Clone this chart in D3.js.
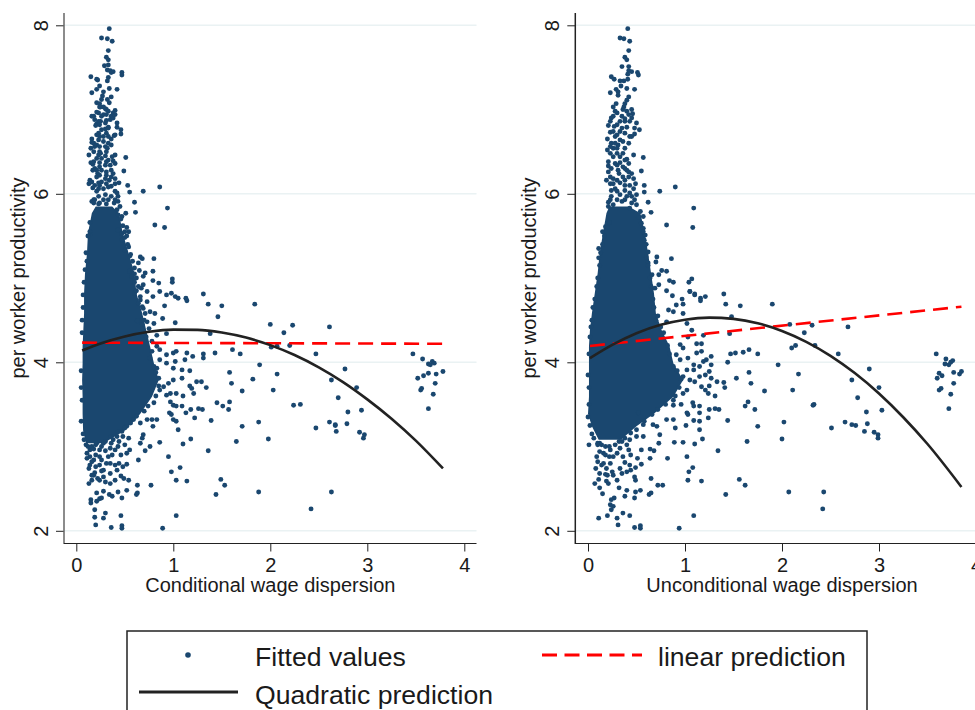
<!DOCTYPE html>
<html>
<head>
<meta charset="utf-8">
<script src="https://cdn.jsdelivr.net/npm/d3@7"></script>
<style>
  html, body { margin: 0; padding: 0; background: #fff; overflow: hidden; }
  text { font-family: "Liberation Sans", Arial, sans-serif; fill: #1a1a1a; }
</style>
</head>
<body>
<svg id="chart" width="975" height="710"></svg>
<script>
const yTicks = [2, 4, 6, 8];
const xTicks = [0, 1, 2, 3, 4];
const legendLabels = ["Fitted values", "linear prediction", "Quadratic prediction"];

// [dispersion, productivity]
const condPoints = [
  [.34,7.96],[.26,7.85],[.32,7.84],[.37,7.81],[.33,7.70],[.31,7.62],[.33,7.59],[.29,7.52],[.33,7.53],[.32,7.47],[.35,7.46],[.38,7.45],[.36,7.44],[.47,7.44],[.47,7.41],[.15,7.39],[.21,7.36],[.22,7.35],[.33,7.38],[.32,7.34],
  [.21,7.24],[.24,7.28],[.16,7.20],[.28,7.21],[.34,7.25],[.42,7.24],[.27,7.16],[.36,7.15],[.32,7.12],[.26,7.12],[.21,7.08],[.24,7.07],[.34,7.08],[.28,7.03],[.25,7.03],[.31,7.00],[.40,6.99],[.38,6.96],[.18,6.92],[.19,6.88],
  [.23,6.96],[.28,6.94],[.36,6.92],[.31,6.87],[.42,6.84],[.25,6.86],[.21,6.83],[.20,6.81],[.33,6.79],[.30,6.77],[.42,6.79],[.46,6.76],[.46,6.71],[.23,6.72],[.24,6.68],[.31,6.72],[.39,6.69],[.36,6.65],[.16,6.65],[.16,6.61],
  [.23,6.64],[.28,6.62],[.33,6.60],[.36,6.58],[.15,6.54],[.19,6.56],[.24,6.50],[.25,6.48],[.13,6.46],[.40,6.46],[.30,6.45],[.37,6.44],[.21,6.42],[.51,6.43],[.15,6.37],[.17,6.35],[.24,6.37],[.31,6.38],[.38,6.39],[.33,6.40],
  [.19,6.30],[.26,6.28],[.31,6.26],[.36,6.28],[.49,6.27],[.38,6.24],[.22,6.24],[.21,6.20],[.14,6.16],[.13,6.12],[.23,6.13],[.30,6.18],[.34,6.16],[.40,6.18],[.17,6.07],[.24,6.10],[.31,6.12],[.36,6.09],[.44,6.13],[.53,6.10],
  [.86,6.08],[.40,6.03],[.21,6.03],[.55,6.02],[.69,6.03],[.43,5.97],[.18,5.93],[.23,5.97],[.30,5.99],[.36,5.97],[.16,5.91],[.24,5.89],[.60,5.90],[.39,5.89],[.45,5.85],[.94,5.83],[.42,5.81],[.51,5.77],[.61,5.78],[.47,5.73],
  [.14,5.66],[.43,5.75],[.81,5.63],[.91,5.60],[.52,5.60],[.47,5.53],[.54,5.55],[.14,5.55],[.14,5.51],[.43,5.57],[.50,5.48],[.54,5.37],[.55,5.26],[.66,5.25],[.68,5.23],[.80,5.23],[.64,5.18],[.79,5.08],[.65,5.09],[.60,5.05],
  [.71,5.06],[.69,5.02],[.57,5.02],[.99,4.99],[.99,4.95],[.79,4.97],[.85,4.94],[.69,4.92],[.67,4.88],[.86,4.84],[.98,4.82],[1.31,4.81],[.93,4.80],[1.02,4.78],[1.13,4.76],[1.05,4.76],[.60,4.82],[.73,4.84],
  [1.36,4.69],[1.50,4.67],[.91,4.67],[1.14,4.73],[.69,4.64],[.73,4.72],[.66,4.74],[.79,4.78],[.71,4.58],[.76,4.60],[.81,4.58],[1.46,4.54],[.89,4.52],[.63,4.49],[.73,4.48],[1.02,4.47],[.80,4.46],[1.38,4.34],[.83,4.32],[.93,4.34],
  [1.43,4.11],[1.61,4.15],[1.69,4.10],[1.03,4.13],[1.14,4.11],[1.20,4.07],[1.31,4.10],[1.31,4.05],[.83,4.19],[.86,4.15],[.93,4.09],[1.00,4.11],[.78,4.13],[.86,4.03],[.93,3.99],[1.02,4.01],[1.12,4.03],[.83,3.93],[1.00,3.93],[1.09,3.91],
  [1.17,3.90],[1.09,3.81],[1.00,3.79],[.85,3.81],[.95,3.75],[1.17,3.72],[1.19,3.69],[1.24,3.77],[1.29,3.77],[1.34,3.70],[1.58,3.88],[1.60,3.75],[1.71,3.66],[.97,3.63],[1.03,3.63],[1.10,3.60],[1.21,3.63],[.86,3.67],[.90,3.71],[.93,3.61],
  [1.45,3.52],[1.51,3.48],[1.57,3.44],[1.58,3.53],[.97,3.53],[1.00,3.49],[1.09,3.48],[1.03,3.48],[1.18,3.44],[1.26,3.45],[1.30,3.44],[1.13,3.40],[.96,3.40],[.98,3.38],[1.22,3.34],[1.39,3.31],[1.00,3.32],[1.03,3.30],[1.71,3.24],[1.05,3.20],
  [1.18,3.09],[1.10,3.03],[1.65,3.06],[1.36,2.95],[.95,2.88],[1.07,2.75],[.98,2.70],[1.03,2.60],[1.14,2.59],[1.49,2.61],[1.53,2.54],[1.44,2.43],[1.03,2.18],[.89,2.03],[.47,2.06],[.47,2.03],[.36,2.04],[.20,2.07],[.46,2.18],[.30,2.21],
  [.28,2.15],[.19,2.25],[.19,2.16],[.15,2.37],[.15,2.33],[.21,2.35],[.24,2.38],[.26,2.39],[.21,2.45],[.28,2.47],[.34,2.43],[.37,2.41],[.43,2.46],[.47,2.39],[.52,2.48],[.62,2.43],[.63,2.45],[.63,2.54],[.77,2.54],[.16,2.60],
  [.13,2.56],[.18,2.66],[.24,2.60],[.28,2.64],[.35,2.56],[.46,2.65],[.49,2.62],[.54,2.60],[.19,2.69],[.26,2.71],[.35,2.68],[.13,2.74],[.18,2.84],[.24,2.88],[.11,2.86],[.16,2.82],[.31,2.80],[.35,2.80],[.40,2.78],[.44,2.80],
  [.48,2.76],[.52,2.79],[.64,2.84],[.71,2.95],[.76,3.00],[.86,3.05],[.69,3.14],[.68,3.10],[.66,3.04],[.55,2.96],[.52,2.92],[.40,2.96],[.43,3.00],[.35,2.98],[.33,2.88],[.24,2.96],[.21,3.04],[.14,2.96],[.28,3.04],[.42,3.12],
  [.48,3.12],[.54,3.10],[.50,3.02],[.79,3.24],[.83,3.32],[.78,3.32],[.73,3.32],[.66,3.28],[.59,3.32],[.52,3.24],[.47,3.18],[.38,3.08],
  [1.84,4.69],[2.00,4.45],[2.23,4.44],[2.14,4.35],[2.61,4.42],[2.20,4.20],[2.01,4.18],[2.07,4.19],[2.47,4.10],[1.89,3.97],[2.77,3.92],[2.07,3.86],[1.82,3.80],[2.63,3.79],[2.89,3.70],[2.03,3.67],[2.70,3.58],[2.24,3.49],[2.31,3.50],[2.80,3.41],
  [2.94,3.43],[1.88,3.29],[2.47,3.22],[2.61,3.29],[2.67,3.26],[2.67,3.25],[2.79,3.27],[2.68,3.18],[2.92,3.17],[2.97,3.14],[2.96,3.10],[1.98,3.09],[1.88,2.46],[2.63,2.46],[2.42,2.26],
  [3.47,4.10],[3.57,4.04],[3.63,3.98],[3.65,3.97],[3.67,4.01],[3.69,3.99],[3.63,3.87],[3.71,3.86],[3.78,3.89],[3.52,3.81],[3.58,3.84],[3.70,3.75],[3.56,3.69],[3.55,3.67],[3.68,3.62],[3.63,3.45],
  // tighter clumps above the solid part
  [.16,6.92],[.21,6.97],[.24,7.03],[.30,7.01],[.33,6.98],[.31,6.94],[.26,6.92],[.35,6.88],[.38,6.90],[.40,6.94],[.23,6.86],[.24,6.82],[.30,6.84],[.33,6.78],[.26,6.76],[.21,6.70],[.28,6.68],[.33,6.68],[.40,6.70],[.18,6.60],
  [.21,6.58],[.24,6.56],[.30,6.56],[.32,6.54],[.18,6.50],[.23,6.46],[.26,6.42],[.31,6.50],[.18,6.38],[.24,6.32],[.30,6.34],[.35,6.34],[.40,6.36],[.17,6.28],[.21,6.28],[.24,6.22],[.31,6.22],[.36,6.20],[.16,6.14],[.19,6.10],
  [.26,6.14],[.33,6.08],[.40,6.12],[.42,6.01],[.23,6.06],[.28,6.06],[.19,5.93],[.28,5.93],[.33,5.93],[.40,5.93],[.18,5.89],[.23,5.88],[.31,5.88],[.43,5.91],
  // rough edge of the solid part
  [.46,5.70],[.48,5.62],[.50,5.55],[.52,5.50],[.47,5.45],[.53,5.40],[.50,5.33],[.56,5.28],[.58,5.20],[.60,5.12],[.55,5.08],[.62,5.00],[.60,4.95],[.64,4.90],[.62,4.85],[.66,4.78],[.64,4.70],[.68,4.66],[.70,4.50],[.68,4.45],
  [.75,4.40],[.72,4.30],[.78,4.25],[.76,4.05],[.80,3.95],[.82,3.88],[.85,3.72],[.82,3.60],[.80,3.52],[.74,3.48],[.70,3.42],[.62,3.36],[.56,3.28],[.50,3.22],[.43,3.18],[.36,3.12],[.30,3.06],
  [.12,5.50],[.10,5.30],[.11,5.20],[.09,5.10],[.08,4.95],[.07,4.80],[.07,4.65],[.06,4.50],[.06,4.35],[.05,3.90],[.05,3.70],[.06,3.55],[.05,3.30],[.07,3.15],[.08,3.08],[.10,3.02],[.12,3.00],[.16,3.00],[.18,2.97],
  [.20,3.02],[.26,3.00],[.30,2.95],[.36,3.04],[.44,3.06],[.11,2.92],[.14,2.88],[.20,2.90],[.26,2.84],[.37,2.90],[.46,2.90],[.14,2.78],[.20,2.76],[.24,2.78],[.28,2.72],[.42,2.72],[.16,2.66],[.22,2.62],[.30,2.58],[.40,2.60]
];

// same, right panel
const uncondPoints = [
  [.41,7.96],[.33,7.85],[.37,7.84],[.43,7.81],[.42,7.70],[.38,7.62],[.40,7.59],[.35,7.51],[.42,7.51],[.42,7.46],[.45,7.45],[.41,7.42],[.51,7.44],[.52,7.41],[.24,7.39],[.27,7.36],[.33,7.34],[.37,7.34],[.41,7.36],[.34,7.28],
  [.29,7.24],[.23,7.20],[.31,7.21],[.40,7.25],[.48,7.24],[.31,7.17],[.42,7.15],[.40,7.11],[.38,7.07],[.29,7.07],[.26,7.03],[.37,7.03],[.28,6.98],[.45,7.00],[.40,6.98],[.46,6.95],[.35,6.92],[.24,6.90],[.23,6.86],[.21,6.81],
  [.33,6.86],[.38,6.89],[.43,6.86],[.50,6.84],[.27,6.80],[.40,6.79],[.48,6.78],[.53,6.76],[.23,6.73],[.33,6.74],[.48,6.71],[.45,6.68],[.28,6.68],[.20,6.65],[.36,6.62],[.42,6.60],[.24,6.60],[.31,6.58],[.20,6.52],[.26,6.54],
  [.30,6.48],[.36,6.48],[.47,6.46],[.57,6.43],[.40,6.41],[.21,6.38],[.28,6.36],[.33,6.37],[.42,6.36],[.21,6.33],[.38,6.30],[.55,6.27],[.21,6.26],[.32,6.24],[.42,6.26],[.45,6.24],[.19,6.16],[.26,6.18],[.38,6.16],[.47,6.18],
  [.23,6.12],[.33,6.13],[.49,6.12],[.58,6.10],[.90,6.08],[.24,6.04],[.43,6.01],[.50,5.99],[.58,6.02],[.74,6.03],[.47,6.06],[.30,6.03],[.24,5.97],[.62,5.90],[.21,5.90],[.50,5.87],[1.09,5.83],[.65,5.78],[.54,5.79],[.57,5.73],
  [.81,5.63],[1.08,5.60],[.22,5.66],[.18,5.61],[.15,5.55],[.57,5.59],[.59,5.51],[.11,5.35],[.11,5.24],[.62,5.31],[.71,5.25],[.70,5.19],[.86,5.23],[.62,5.18],[.76,5.09],[.81,5.08],[.66,5.04],[.73,5.04],[.84,4.97],[.88,4.95],
  [1.07,4.99],[1.04,4.95],[.73,4.92],[.69,4.88],[.81,4.85],[1.05,4.84],[1.40,4.81],[.87,4.79],[1.10,4.81],[1.21,4.78],[1.16,4.76],[.97,4.75],
  [1.42,4.69],[1.57,4.67],[.98,4.69],[.91,4.68],[1.16,4.73],[1.10,4.80],[1.05,4.84],[1.48,4.54],[.98,4.58],[.88,4.60],[.83,4.62],[.81,4.48],[1.02,4.46],[1.46,4.34],[1.19,4.32],[1.03,4.30],[1.07,4.38],[1.12,4.22],[1.17,4.22],[.95,4.21],
  [.98,4.17],[1.17,4.13],[1.12,4.11],[1.27,4.07],[1.22,4.03],[1.19,4.01],[1.47,4.10],[1.52,4.11],[1.60,4.12],[1.66,4.15],[1.75,4.10],[1.44,4.00],[1.27,3.97],[1.15,3.95],[1.09,3.97],[1.03,4.05],[.95,4.03],[.91,4.09],[1.66,3.88],[1.68,3.75],
  [1.53,3.81],[1.27,3.81],[1.25,3.89],[1.15,3.83],[1.21,3.85],[1.09,3.91],[1.02,3.91],[.98,3.83],[1.05,3.79],[1.10,3.77],[1.17,3.71],[1.25,3.72],[1.33,3.77],[1.40,3.76],[1.41,3.70],[1.21,3.67],[1.02,3.67],[.98,3.63],[1.24,3.63],[1.31,3.60],
  [1.65,3.53],[1.62,3.48],[1.72,3.44],[1.08,3.52],[1.09,3.48],[1.15,3.48],[.96,3.50],[.88,3.49],[1.25,3.44],[1.31,3.45],[1.35,3.44],[1.02,3.40],[1.03,3.38],[1.15,3.40],[1.24,3.34],[1.44,3.31],[1.09,3.31],[1.15,3.30],[1.01,3.25],[.88,3.32],
  [.81,3.32],[.90,3.22],[1.75,3.24],[1.15,3.20],[1.18,3.09],[.98,3.05],[.89,3.05],[1.10,3.03],[1.64,3.06],[1.34,2.95],[1.02,2.88],[.82,2.86],[1.08,2.75],[1.04,2.70],[1.03,2.60],[1.17,2.59],[1.56,2.61],[1.62,2.54],[1.42,2.43],[1.09,2.18],
  [.94,2.03],[.54,2.06],[.54,2.03],[.48,2.04],[.31,2.07],[.43,2.18],[.36,2.21],[.30,2.15],[.20,2.18],[.11,2.15],[.24,2.25],[.26,2.29],[.23,2.31],[.27,2.39],[.24,2.37],[.15,2.44],[.12,2.51],[.38,2.41],[.48,2.39],[.40,2.48],
  [.32,2.51],[.49,2.46],[.54,2.48],[.63,2.43],[.65,2.45],[.65,2.62],[.72,2.54],[.77,2.54],[.07,2.56],[.11,2.61],[.19,2.59],[.21,2.56],[.18,2.67],[.26,2.66],[.35,2.68],[.40,2.70],[.48,2.64],[.49,2.60],[.25,2.70],[.08,2.74],
  [.09,2.88],[.16,2.80],[.23,2.80],[.38,2.81],[.43,2.78],[.49,2.75],[.55,2.79],[.51,2.86],[.55,2.96],[.64,2.97],[.68,2.95],[.73,3.04],[.64,2.86],[.74,3.14],[.50,3.12],[.57,3.12],[.43,3.08],[.40,3.02],[.33,2.98],[.23,2.96],
  [.12,3.04],[.10,3.04],[.01,3.02],[.26,2.88],[.16,2.92],[.42,2.96],[.71,3.24],[.67,3.26],[.57,3.26],[.52,3.40],
  [1.90,4.69],[2.08,4.45],[2.31,4.44],[2.23,4.35],[2.68,4.42],[2.10,4.17],[2.14,4.20],[2.34,4.20],[2.58,4.10],[1.96,3.97],[2.90,3.92],[2.17,3.86],[2.72,3.79],[3.00,3.70],[1.82,3.66],[2.11,3.67],[2.78,3.58],[2.32,3.49],[2.33,3.50],[2.87,3.41],
  [3.03,3.43],[2.02,3.29],[2.51,3.22],[2.65,3.29],[2.72,3.26],[2.76,3.25],[2.88,3.27],[2.85,3.18],[2.95,3.17],[2.99,3.14],[2.99,3.10],[2.00,3.09],[2.07,2.46],[2.43,2.46],[2.42,2.26],
  [3.59,4.10],[3.69,4.04],[3.68,3.98],[3.72,3.97],[3.74,4.00],[3.76,4.02],[3.62,3.87],[3.77,3.88],[3.85,3.89],[3.83,3.86],[3.60,3.81],[3.65,3.84],[3.77,3.75],[3.64,3.69],[3.62,3.67],[3.74,3.62],[3.72,3.45],
  // tighter clumps above the solid part
  [.26,6.92],[.30,6.96],[.36,7.00],[.42,6.94],[.45,6.90],[.38,6.86],[.30,6.82],[.35,6.78],[.26,6.74],[.30,6.70],[.38,6.72],[.43,6.68],[.33,6.64],[.28,6.60],[.23,6.56],[.30,6.54],[.38,6.54],[.23,6.48],[.26,6.44],[.33,6.44],
  [.38,6.40],[.30,6.34],[.36,6.32],[.24,6.30],[.40,6.28],[.31,6.28],[.23,6.20],[.30,6.16],[.36,6.20],[.42,6.20],[.26,6.12],[.38,6.10],[.43,6.10],[.28,6.06],[.38,6.04],[.33,5.99],[.40,5.97],[.45,5.97],[.23,5.93],[.30,5.93],
  [.38,5.93],[.45,5.89],[.26,5.87],[.35,5.91],[.48,5.93],[.21,5.85],[.43,5.83],
  // rough edge of the solid part
  [.52,5.72],[.55,5.65],[.57,5.55],[.58,5.45],[.60,5.40],[.60,5.25],[.62,5.15],[.64,5.00],[.65,4.90],[.67,4.75],[.68,4.65],[.70,4.50],[.72,4.55],[.75,4.42],[.78,4.35],[.82,4.20],[.84,4.10],[.88,3.95],[.92,3.90],[.96,3.80],
  [.94,3.70],[.90,3.60],[.88,3.55],[.80,3.50],[.72,3.44],[.66,3.38],[.58,3.30],[.50,3.20],[.44,3.16],[.38,3.10],[.32,3.06],
  [.20,5.60],[.17,5.50],[.15,5.40],[.13,5.30],[.12,5.15],[.10,5.00],[.09,4.90],[.07,4.75],[.05,4.65],[.04,4.50],[.03,4.42],[.02,4.30],[.01,4.10],[.00,3.85],[.01,3.70],[.01,3.50],[.00,3.35],[.02,3.25],[.04,3.15],[.06,3.10],[.10,3.02],
  [.14,3.02],[.18,3.00],[.22,3.00],[.28,3.02],[.35,3.06],[.12,2.94],[.18,2.90],[.22,2.88],[.30,2.92],[.36,2.88],[.44,2.90],[.10,2.82],[.14,2.78],[.19,2.74],[.33,2.74],[.44,2.72],[.12,2.68],[.20,2.66],[.30,2.60]
];

// The middle of each cloud is saturated, single firms can't be read there,
// so only its outline is kept: [productivity, left dispersion, right dispersion]
const condCore = [
  [5.85,.20,.37],[5.77,.16,.44],[5.53,.12,.48],[5.29,.11,.54],[5.06,.09,.60],[4.82,.08,.62],[4.58,.08,.68],[4.19,.065,.76],[3.99,.065,.80],[3.79,.06,.85],[3.59,.065,.78],[3.39,.065,.66],[3.19,.07,.50],[3.04,.10,.28]
];
const uncondCore = [
  [5.85,.22,.42],[5.77,.19,.54],[5.57,.16,.58],[5.29,.12,.62],[5.06,.10,.65],[4.82,.07,.68],[4.58,.04,.70],[4.38,.02,.76],[4.19,.01,.84],[3.99,.01,.88],[3.79,.01,.98],[3.59,.01,.88],[3.39,.00,.68],[3.24,.04,.50],[3.08,.11,.34]
];

const condLinear = [[.06,4.233],[3.78,4.22]];
const uncondLinear = [[.02,4.194],[3.85,4.66]];
const condQuad = [[.06,4.14],[.25,4.224],[.5,4.307],[.75,4.362],[1,4.388],[1.25,4.385],[1.5,4.353],[1.75,4.293],[2,4.204],[2.25,4.086],[2.5,3.94],[2.75,3.765],[3,3.56],[3.25,3.33],[3.5,3.07],[3.78,2.74]];
const uncondQuad = [[.02,4.05],[.25,4.207],[.5,4.345],[.75,4.445],[1,4.506],[1.25,4.53],[1.5,4.515],[1.75,4.463],[2,4.372],[2.25,4.243],[2.5,4.077],[2.75,3.872],[3,3.63],[3.25,3.348],[3.5,3.03],[3.85,2.52]];

const markerColor = "#1a476f";
const gridColor = "#eaf2f3";
const svg = d3.select("#chart");

function drawPanel(cfg) {
  const x = d3.scaleLinear().domain([0, 4]).range([cfg.x0, cfg.x0 + 388]);
  const y = d3.scaleLinear().domain([2, 8]).range([530.8, 25.3]);
  const g = svg.append("g");

  g.selectAll(".grid").data(yTicks).join("line")
    .attr("class", "grid")
    .attr("x1", cfg.spine).attr("x2", cfg.right)
    .attr("y1", d => y(d)).attr("y2", d => y(d))
    .attr("stroke", gridColor).attr("stroke-width", 1.5);

  const core = d3.area().y(d => y(d[0])).x0(d => x(d[1])).x1(d => x(d[2]));
  g.append("path").datum(cfg.core).attr("d", core).attr("fill", markerColor);

  g.selectAll(".point").data(cfg.points).join("circle")
    .attr("class", "point")
    .attr("cx", d => x(d[0])).attr("cy", d => y(d[1]))
    .attr("r", 2.45).attr("fill", markerColor);

  const line = d3.line().x(d => x(d[0])).y(d => y(d[1]));
  g.append("path").datum(cfg.linear).attr("d", line)
    .attr("fill", "none").attr("stroke", "#ff0000").attr("stroke-width", 2.6)
    .attr("stroke-dasharray", "15,8");
  g.append("path").datum(cfg.quad).attr("d", line.curve(d3.curveMonotoneX))
    .attr("fill", "none").attr("stroke", "#222").attr("stroke-width", 2.6);

  const yAxis = g.append("g").attr("transform", `translate(${cfg.spine},0)`)
    .call(d3.axisLeft(y).tickValues(yTicks).tickSize(8).tickPadding(0).tickFormat(d3.format("d")));
  yAxis.select(".domain").remove();
  yAxis.selectAll("line").attr("stroke", "#222");
  // tick labels stand on their side, as in Stata's default
  yAxis.selectAll("text")
    .attr("x", 0).attr("y", 0).attr("dy", 0)
    .attr("text-anchor", "middle")
    .attr("transform", `translate(${cfg.tickBase - cfg.spine},0) rotate(-90)`)
    .style("font-size", "20px").style("font-family", "'Liberation Sans'");

  const xAxis = g.append("g").attr("transform", "translate(0,543.5)")
    .call(d3.axisBottom(x).tickValues(xTicks).tickSize(8).tickPadding(6).tickFormat(d3.format("d")));
  xAxis.select(".domain").remove();
  xAxis.selectAll("line").attr("stroke", "#222");
  xAxis.selectAll("text").style("font-size", "20px").style("font-family", "'Liberation Sans'");

  g.append("line").attr("x1", cfg.spine).attr("x2", cfg.spine).attr("y1", 13).attr("y2", 544)
    .attr("stroke", cfg.spineColor).attr("stroke-width", 1.5);
  g.append("line").attr("x1", cfg.spine).attr("x2", cfg.right).attr("y1", 543.5).attr("y2", 543.5)
    .attr("stroke", "#222").attr("stroke-width", 1.2);

  g.append("text").attr("x", x(2)).attr("y", 592).attr("text-anchor", "middle")
    .style("font-size", "20px").text(cfg.xTitle);
  g.append("text").attr("transform", `translate(${cfg.titleBase},278) rotate(-90)`)
    .attr("text-anchor", "middle").style("font-size", "20px").text("per worker productivity");
}

drawPanel({
  x0: 76.3, spine: 64, right: 476.5, tickBase: 48, titleBase: 25, spineColor: "#666",
  points: condPoints, core: condCore, linear: condLinear, quad: condQuad,
  xTitle: "Conditional wage dispersion"
});
drawPanel({
  x0: 588, spine: 575.3, right: 990, tickBase: 559, titleBase: 536, spineColor: "#222",
  points: uncondPoints, core: uncondCore, linear: uncondLinear, quad: uncondQuad,
  xTitle: "Unconditional wage dispersion"
});

// legend
const legend = svg.append("g");
legend.append("rect").attr("x", 127).attr("y", 631).attr("width", 740).attr("height", 100)
  .attr("fill", "#fff").attr("stroke", "#222").attr("stroke-width", 1.5);
legend.append("circle").attr("cx", 188).attr("cy", 655).attr("r", 2.8).attr("fill", markerColor);
legend.append("line").attr("x1", 542).attr("x2", 642).attr("y1", 655).attr("y2", 655)
  .attr("stroke", "#ff0000").attr("stroke-width", 3).attr("stroke-dasharray", "15,7.5");
legend.append("line").attr("x1", 139).attr("x2", 238).attr("y1", 692).attr("y2", 692)
  .attr("stroke", "#222").attr("stroke-width", 3);
const legendPos = [[255, 666], [658, 666], [255, 704]];
legend.selectAll(".lab").data(legendLabels).join("text")
  .attr("class", "lab")
  .attr("x", (d, i) => legendPos[i][0]).attr("y", (d, i) => legendPos[i][1])
  .style("font-size", "26.6px").text(d => d);
</script>
</body>
</html>
